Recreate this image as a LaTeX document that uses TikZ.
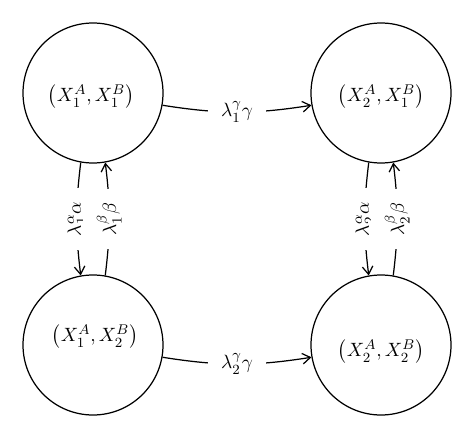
\documentclass[tikz,border=0pt]{standalone}
\usepackage{amsmath,amssymb}
\usepackage{tikz}
\usetikzlibrary{arrows.meta}
\begin{document}
\begin{tikzpicture}[scale=0.2,
		state/.style={draw,circle,minimum size=2.8cm,line width=0.7pt},
		rate/.style={fill=white,inner sep=0.27cm},
		trans/.style={line width=0.7pt,-{Straight Barb[length=4.5pt,width=6pt]}}]
			\tikzstyle{every node}+=[font=\fontsize{11.2}{14}\selectfont]
			\useasboundingbox (0,0) rectangle (47.4,-43.8);
			\node [state] (s11) at (9.3,-9.3) {};
			\node [state] (s21) at (38.1,-9.3) {};
			\node [state] (s12) at (9.3,-34.5) {};
			\node [state] (s22) at (38.1,-34.5) {};
			\node (t11) at (9.1,-9.7) {$\bigl(X_1^A,X_1^B\bigr)$};
			\node (t21) at (38.1,-9.7) {$\bigl(X_2^A,X_1^B\bigr)$};
			\node (t12) at (9.5,-33.7) {$\bigl(X_1^A,X_2^B\bigr)$};
			\node (t22) at (38.1,-35.2) {$\bigl(X_2^A,X_2^B\bigr)$};
			\draw [trans] (s11.-10) to [bend right=9] node [rate] {$\lambda_1^{\gamma}\gamma$} (s21.190);
			\draw [trans] (s12.-10) to [bend right=9] node [rate] {$\lambda_2^{\gamma}\gamma$} (s22.190);
			\draw [trans] (s11.-100) to [bend right=7] node [rate,rotate=90] {$\lambda_1^{\alpha}\alpha$} (s12.100);
			\draw [trans] (s12.80) to [bend right=7] node [rate,rotate=90] {$\lambda_1^{\beta}\beta$} (s11.-80);
			\draw [trans] (s21.-100) to [bend right=7] node [rate,rotate=90] {$\lambda_2^{\alpha}\alpha$} (s22.100);
			\draw [trans] (s22.80) to [bend right=7] node [rate,rotate=90] {$\lambda_2^{\beta}\beta$} (s21.-80);
\end{tikzpicture}
\end{document}
